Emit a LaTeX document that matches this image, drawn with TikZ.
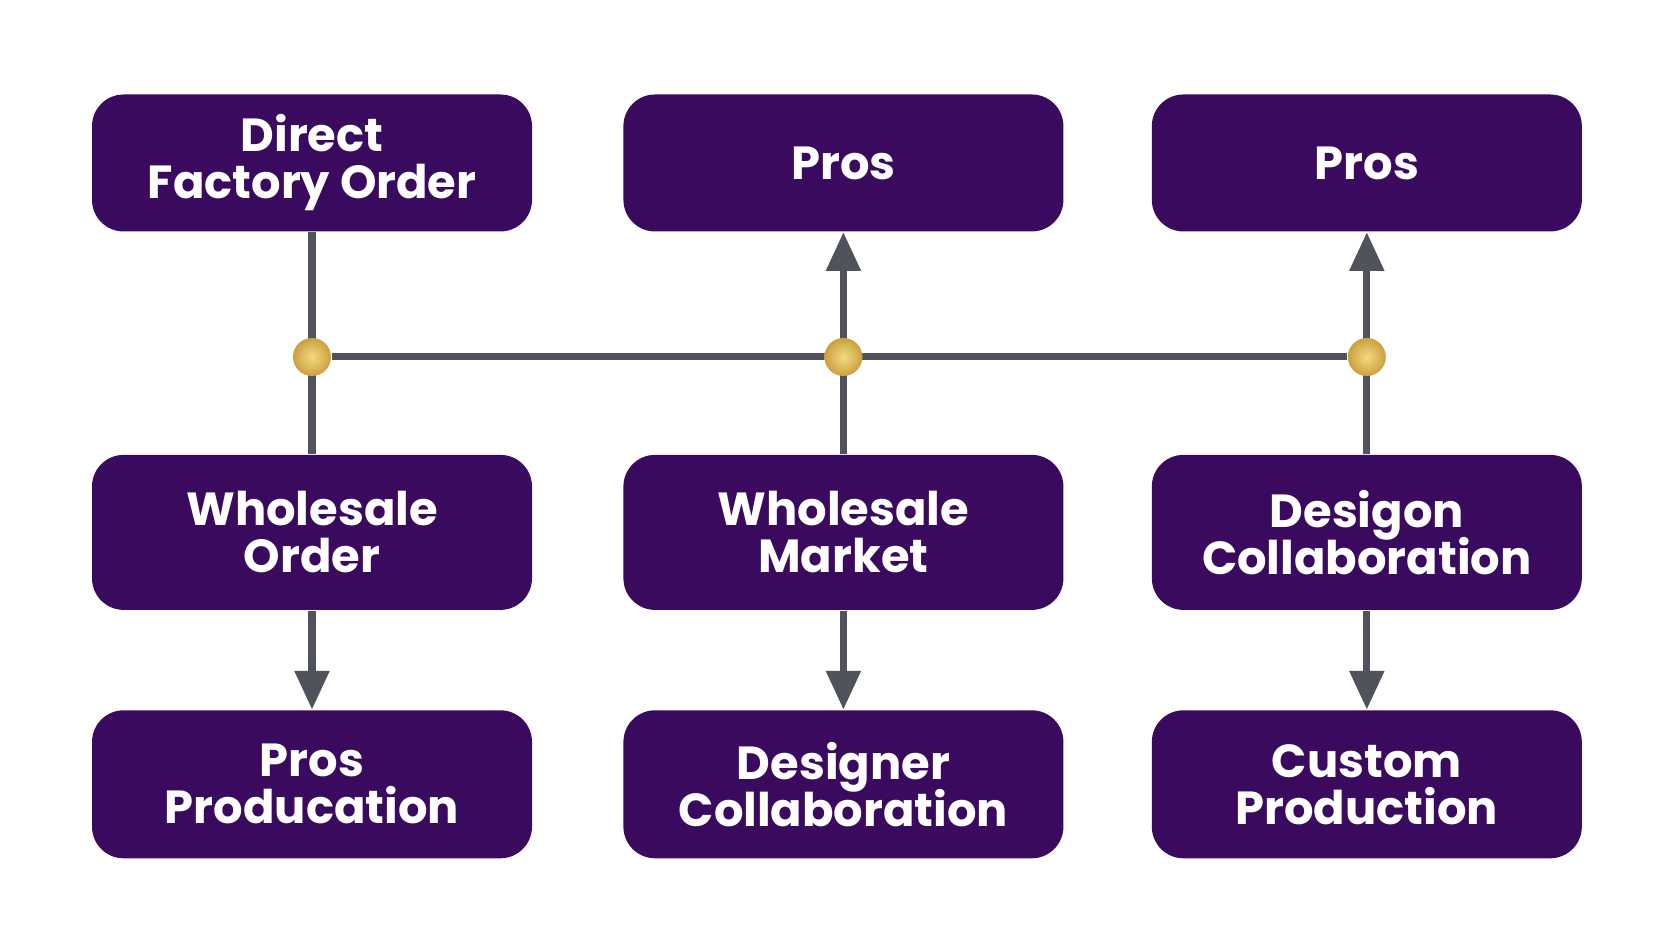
\documentclass[tikz,border=0pt]{standalone}
\usepackage{fontspec}
\setmainfont{Poppins}
\usetikzlibrary{
    shapes.geometric,
    arrows.meta,
    positioning,
    backgrounds,
    calc
}
\definecolor{Pdark}{RGB}{58, 10, 94}
\definecolor{Pgrey}{RGB}{80, 82, 92}
\definecolor{Pgold}{RGB}{204, 160, 62}
\definecolor{Plight}{RGB}{242, 218, 130}
\newcommand{\pboxfont}{\fontsize{13.2}{13.4}\selectfont\bfseries\lineskiplimit=-20pt\relax}
\tikzset{
    pbox/.style={
        rectangle, rounded corners=9pt, fill=Pdark, text=white,
        minimum width=4.4cm, minimum height=1.45cm,
        align=center, font=\pboxfont, inner sep=4pt
    },
    pline/.style={line width=2pt, Pgrey},
    parr/.style={-{Triangle[length=11pt, width=9.5pt]}, line width=2pt, Pgrey},
    pdot/.style={circle, minimum size=0.38cm, inner sep=0pt, inner color=Plight, outer color=Pgold},
}

\begin{document}
\begin{tikzpicture}

    \useasboundingbox (0,0) rectangle (16.64,9.28);

    % top row
    \node [pbox, minimum height=1.37cm] (direct) at (3.12,7.65) {Direct\\Factory Order};
    \node [pbox, minimum height=1.37cm, right=0.9cm of direct] (pros1) {Pros};
    \node [pbox, minimum height=1.37cm, minimum width=4.3cm, right=0.87cm of pros1] (pros2) {Pros};

    % middle row
    \node [pbox, minimum height=1.55cm, below=2.22cm of direct] (wsorder) {Wholesale\\Order};
    \node [pbox, minimum height=1.55cm, below=2.22cm of pros1] (wsmarket) {Wholesale\\Market};
    \node [pbox, minimum height=1.55cm, minimum width=4.3cm, below=2.22cm of pros2] (design) {Desigon\\Collaboration};

    % bottom row
    \node [pbox, minimum height=1.48cm, below=0.99cm of wsorder] (prosprod) {Pros\\Producation};
    \node [pbox, minimum height=1.48cm, below=0.99cm of wsmarket] (designer) {Designer\\Collaboration};
    \node [pbox, minimum height=1.48cm, minimum width=4.3cm, below=0.99cm of design] (custom) {Custom\\Production};

    % junctions
    \coordinate (hub) at (0,5.71);
    \node [pdot] (j1) at (direct |- hub) {};
    \node [pdot] (j2) at (pros1 |- hub) {};
    \node [pdot] (j3) at (pros2 |- hub) {};

    \begin{scope}[on background layer]
        \draw [pline] (direct) -- (wsorder);
        \draw [pline] (j1) -- (j3);
        \draw [parr] (wsmarket) -- (pros1);
        \draw [parr] (design) -- (pros2);
    \end{scope}

    \draw [parr] (wsorder) -- (prosprod);
    \draw [parr] (wsmarket) -- (designer);
    \draw [parr] (design) -- (custom);

\end{tikzpicture}
\end{document}
